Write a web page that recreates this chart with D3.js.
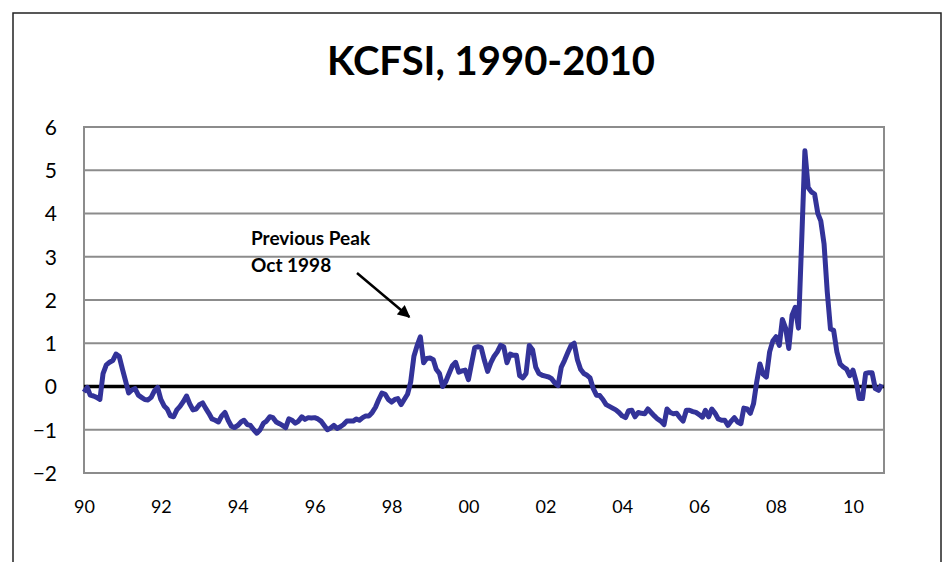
<!DOCTYPE html>
<html>
<head>
<meta charset="utf-8">
<script src="https://cdn.jsdelivr.net/npm/d3@7"></script>
<style>
  body { margin: 0; background: #fff; }
  text { font-family: Lato, "Open Sans", sans-serif; }
</style>
</head>
<body>
<div id="chart"></div>
<script>
// monthly KCFSI readings, Jan 1990 onward
const kcfsi = [
  -0.13, -0.02, -0.2, -0.22, -0.25, -0.3, 0.3, 0.5, 0.56, 0.6, 0.75, 0.7,
  0.4, 0.12, -0.15, -0.08, -0.05, -0.2, -0.25, -0.3, -0.31, -0.25, -0.1, -0.02,
  -0.3, -0.45, -0.52, -0.68, -0.7, -0.54, -0.46, -0.35, -0.22, -0.4, -0.54, -0.52,
  -0.42, -0.38, -0.5, -0.62, -0.75, -0.78, -0.82, -0.68, -0.6, -0.78, -0.92, -0.95,
  -0.9, -0.82, -0.78, -0.88, -0.9, -1.0, -1.08, -1.0, -0.85, -0.8, -0.7, -0.72,
  -0.82, -0.86, -0.9, -0.95, -0.75, -0.78, -0.85, -0.8, -0.7, -0.76, -0.72, -0.73,
  -0.72, -0.75, -0.8, -0.9, -1.0, -0.96, -0.9, -0.97, -0.93, -0.88, -0.8, -0.8,
  -0.8, -0.75, -0.78, -0.72, -0.68, -0.68, -0.6, -0.48, -0.3, -0.15, -0.18, -0.3,
  -0.36, -0.3, -0.28, -0.42, -0.3, -0.18, 0.1, 0.7, 0.95, 1.15, 0.55, 0.65,
  0.66, 0.62, 0.4, 0.3, 0.0, 0.12, 0.3, 0.48, 0.56, 0.33, 0.36, 0.38,
  0.16, 0.55, 0.9, 0.92, 0.9, 0.6, 0.35, 0.55, 0.7, 0.8, 0.95, 0.92,
  0.55, 0.75, 0.72, 0.72, 0.25, 0.2, 0.3, 0.95, 0.85, 0.45, 0.3, 0.26,
  0.24, 0.22, 0.18, 0.08, 0.02, 0.45, 0.6, 0.78, 0.95, 1.0, 0.62, 0.4,
  0.3, 0.26, 0.2, -0.05, -0.2, -0.21, -0.3, -0.42, -0.46, -0.5, -0.54, -0.6,
  -0.68, -0.72, -0.56, -0.55, -0.7, -0.6, -0.62, -0.63, -0.52, -0.6, -0.68, -0.75,
  -0.8, -0.88, -0.52, -0.6, -0.63, -0.62, -0.72, -0.8, -0.55, -0.55, -0.58, -0.6,
  -0.65, -0.71, -0.55, -0.7, -0.52, -0.62, -0.75, -0.78, -0.78, -0.9, -0.8, -0.72,
  -0.82, -0.86, -0.5, -0.52, -0.62, -0.4, 0.1, 0.52, 0.28, 0.22, 0.8, 1.05,
  1.15, 0.95, 1.55, 1.35, 0.88, 1.65, 1.83, 1.35, 3.4, 5.45, 4.6, 4.5,
  4.45, 4.0, 3.83, 3.3, 2.2, 1.33, 1.3, 0.8, 0.52, 0.45, 0.4, 0.25,
  0.38, 0.1, -0.28, -0.28, 0.3, 0.32, 0.32, -0.05, -0.09, 0.05
];
const startMonth = new Date(1990, 0, 1);
const tickYears = [1990, 1992, 1994, 1996, 1998, 2000, 2002, 2004, 2006, 2008, 2010];
const tickLabels = ["90", "92", "94", "96", "98", "00", "02", "04", "06", "08", "10"];
const yTicks = [-2, -1, 0, 1, 2, 3, 4, 5, 6];
const chartTitle = "KCFSI, 1990-2010";
const noteLines = ["Previous Peak", "Oct 1998"];
const notePeak = new Date(1998, 9, 1);

const width = 951, height = 562;
const plot = { left: 84, right: 884, top: 127, bottom: 473 };

const series = kcfsi.map((v, i) => ({ date: d3.timeMonth.offset(startMonth, i), value: v }));

const svg = d3.select("#chart").append("svg")
  .attr("width", width)
  .attr("height", height);

svg.append("rect")
  .attr("x", 0).attr("y", 0).attr("width", width).attr("height", height)
  .attr("fill", "#fff");

// outer chart frame (bottom runs off the page)
svg.append("rect")
  .attr("x", 13).attr("y", 13).attr("width", 928).attr("height", 600)
  .attr("fill", "none").attr("stroke", "#222").attr("stroke-width", 1.5);

const x = d3.scaleTime()
  .domain([new Date(1990, 0, 1), new Date(2010, 0, 1)])
  .range([plot.left, 853]);

const y = d3.scaleLinear()
  .domain([-2, 6])
  .range([plot.bottom, plot.top]);

// gridlines
svg.append("g")
  .selectAll("line")
  .data(yTicks.filter(d => d !== 0))
  .join("line")
  .attr("x1", plot.left).attr("x2", plot.right)
  .attr("y1", d => y(d)).attr("y2", d => y(d))
  .attr("stroke", "#8c8c8c").attr("stroke-width", 2);

svg.append("rect")
  .attr("x", plot.left).attr("y", plot.top)
  .attr("width", plot.right - plot.left).attr("height", plot.bottom - plot.top)
  .attr("fill", "none").attr("stroke", "#8c8c8c").attr("stroke-width", 2);

// zero line
svg.append("line")
  .attr("x1", plot.left).attr("x2", plot.right)
  .attr("y1", y(0)).attr("y2", y(0))
  .attr("stroke", "#000").attr("stroke-width", 3.5);

// y axis labels
const yAxis = d3.axisLeft(y).tickValues(yTicks).tickFormat(d3.format("d")).tickSize(0).tickPadding(27);
const yg = svg.append("g").attr("transform", `translate(${plot.left},0)`).call(yAxis);
yg.select(".domain").remove();
yg.selectAll(".tick text").style("font-size", "21px").attr("fill", "#000").attr("dy", "0.35em");

// x axis labels
const xAxis = d3.axisBottom(x)
  .tickValues(tickYears.map(yr => new Date(yr, 0, 1)))
  .tickFormat((d, i) => tickLabels[i])
  .tickSize(0).tickPadding(27);
const xg = svg.append("g").attr("transform", `translate(0,${plot.bottom})`).call(xAxis);
xg.select(".domain").remove();
xg.selectAll(".tick text").style("font-size", "18px").attr("fill", "#000");

// the index line
const line = d3.line()
  .x(d => x(d.date))
  .y(d => y(d.value));

svg.append("path")
  .datum(series)
  .attr("d", line)
  .attr("fill", "none")
  .attr("stroke", "#333399")
  .attr("stroke-width", 5)
  .attr("stroke-linejoin", "round");

// title
svg.append("text")
  .attr("x", 491).attr("y", 75)
  .attr("text-anchor", "middle")
  .style("font-size", "40px").style("font-weight", "bold")
  .text(chartTitle);

// annotation
svg.append("defs").append("marker")
  .attr("id", "arrow")
  .attr("viewBox", "0 0 10 10")
  .attr("refX", 9).attr("refY", 5)
  .attr("markerWidth", 5.5).attr("markerHeight", 5)
  .attr("orient", "auto")
  .append("path").attr("d", "M0,0 L10,5 L0,10 Z").attr("fill", "#000");

svg.append("g").selectAll("text")
  .data(noteLines)
  .join("text")
  .attr("x", 251).attr("y", (d, i) => 245 + i * 27)
  .style("font-size", "19px").style("font-weight", "bold")
  .text(d => d);

svg.append("line")
  .attr("x1", 357).attr("y1", 273)
  .attr("x2", x(notePeak) - 11).attr("y2", 317)
  .attr("stroke", "#000").attr("stroke-width", 2.5)
  .attr("marker-end", "url(#arrow)");
</script>
</body>
</html>
